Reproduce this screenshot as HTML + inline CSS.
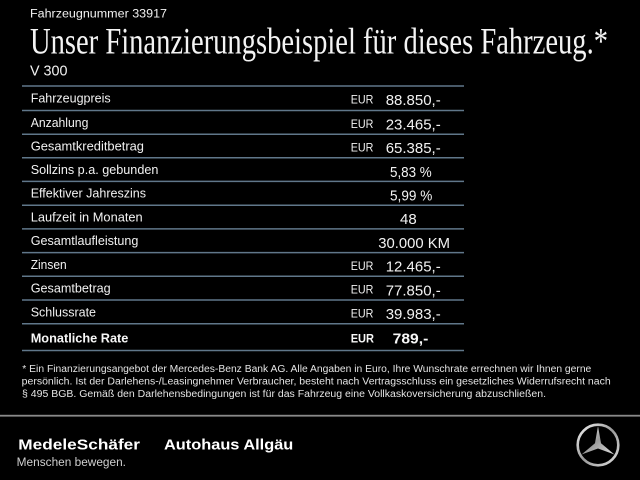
<!DOCTYPE html>
<html>
<head>
<meta charset="utf-8">
<style>
html,body{margin:0;padding:0;background:#000;}
body{width:640px;height:480px;overflow:hidden;}
svg{display:block;}
.s{font-family:"Liberation Sans",Arial,sans-serif;fill:#f2f2f2;}
.b{font-family:"Liberation Sans",Arial,sans-serif;fill:#f7f7f7;font-weight:bold;}
</style>
</head>
<body>
<svg width="640" height="480" viewBox="0 0 640 480" xmlns="http://www.w3.org/2000/svg">
<defs>
<linearGradient id="silver" x1="0" y1="0" x2="1" y2="1">
<stop offset="0" stop-color="#f2f2f2"/>
<stop offset="0.5" stop-color="#9a9a9a"/>
<stop offset="1" stop-color="#e0e0e0"/>
</linearGradient>
</defs>
<rect width="640" height="480" fill="#000"/>

<!-- header -->
<text class="s" x="30" y="17.5" font-size="11.5" textLength="137" lengthAdjust="spacingAndGlyphs">Fahrzeugnummer 33917</text>
<text x="30" y="53.5" font-family="'Liberation Serif','Times New Roman',serif" font-size="36.5" fill="#f4f4f4" textLength="578" lengthAdjust="spacingAndGlyphs">Unser Finanzierungsbeispiel für dieses Fahrzeug.*</text>
<text class="s" x="30" y="75.5" font-size="15" textLength="37.5" lengthAdjust="spacingAndGlyphs">V 300</text>

<!-- table lines -->
<g stroke="#60778a" stroke-width="1.5">
<line x1="22" y1="86" x2="464" y2="86"/>
<line x1="22" y1="110.5" x2="464" y2="110.5"/>
<line x1="22" y1="134.2" x2="464" y2="134.2"/>
<line x1="22" y1="157.8" x2="464" y2="157.8"/>
<line x1="22" y1="181.4" x2="464" y2="181.4"/>
<line x1="22" y1="205.2" x2="464" y2="205.2"/>
<line x1="22" y1="228.9" x2="464" y2="228.9"/>
<line x1="22" y1="252.6" x2="464" y2="252.6"/>
<line x1="22" y1="276.3" x2="464" y2="276.3"/>
<line x1="22" y1="300" x2="464" y2="300"/>
<line x1="22" y1="323.7" x2="464" y2="323.7"/>
<line x1="22" y1="350.5" x2="464" y2="350.5"/>
</g>

<!-- labels -->
<g class="s" font-size="13">
<text class="s" x="30.7" y="102.3" textLength="80" lengthAdjust="spacingAndGlyphs">Fahrzeugpreis</text>
<text class="s" x="30.7" y="126.8" textLength="57.7" lengthAdjust="spacingAndGlyphs">Anzahlung</text>
<text class="s" x="30.7" y="150.5" textLength="113.3" lengthAdjust="spacingAndGlyphs">Gesamtkreditbetrag</text>
<text class="s" x="30.7" y="174.1" textLength="127.7" lengthAdjust="spacingAndGlyphs">Sollzins p.a. gebunden</text>
<text class="s" x="30.7" y="197.7" textLength="115.3" lengthAdjust="spacingAndGlyphs">Effektiver Jahreszins</text>
<text class="s" x="30.7" y="221.5" textLength="112" lengthAdjust="spacingAndGlyphs">Laufzeit in Monaten</text>
<text class="s" x="30.7" y="245.2" textLength="107.7" lengthAdjust="spacingAndGlyphs">Gesamtlaufleistung</text>
<text class="s" x="30.7" y="268.9" textLength="36" lengthAdjust="spacingAndGlyphs">Zinsen</text>
<text class="s" x="30.7" y="292.6" textLength="80" lengthAdjust="spacingAndGlyphs">Gesamtbetrag</text>
<text class="s" x="30.7" y="316.3" textLength="65.3" lengthAdjust="spacingAndGlyphs">Schlussrate</text>
<text class="b" x="30.7" y="342.7" font-size="13" textLength="97.7" lengthAdjust="spacingAndGlyphs">Monatliche Rate</text>
</g>

<!-- EUR -->
<g class="s" font-size="12">
<text class="s" x="350.7" y="103.3" textLength="22.7" lengthAdjust="spacingAndGlyphs">EUR</text>
<text class="s" x="350.7" y="127.8" textLength="22.7" lengthAdjust="spacingAndGlyphs">EUR</text>
<text class="s" x="350.7" y="151.5" textLength="22.7" lengthAdjust="spacingAndGlyphs">EUR</text>
<text class="s" x="350.7" y="269.9" textLength="22.7" lengthAdjust="spacingAndGlyphs">EUR</text>
<text class="s" x="350.7" y="293.6" textLength="22.7" lengthAdjust="spacingAndGlyphs">EUR</text>
<text class="s" x="350.7" y="317.3" textLength="22.7" lengthAdjust="spacingAndGlyphs">EUR</text>
<text class="b" x="350.7" y="342.7" font-size="12" textLength="23.3" lengthAdjust="spacingAndGlyphs">EUR</text>
</g>

<!-- values -->
<g class="s" font-size="15">
<text class="s" x="385.7" y="105" textLength="55" lengthAdjust="spacingAndGlyphs">88.850,-</text>
<text class="s" x="385.7" y="129.5" textLength="55" lengthAdjust="spacingAndGlyphs">23.465,-</text>
<text class="s" x="385.7" y="153.2" textLength="55" lengthAdjust="spacingAndGlyphs">65.385,-</text>
<text class="s" x="390" y="176.8" textLength="41.7" lengthAdjust="spacingAndGlyphs">5,83 %</text>
<text class="s" x="390" y="200.4" textLength="42.3" lengthAdjust="spacingAndGlyphs">5,99 %</text>
<text class="s" x="400" y="224.2" textLength="16.7" lengthAdjust="spacingAndGlyphs">48</text>
<text class="s" x="378.3" y="247.9" textLength="71.7" lengthAdjust="spacingAndGlyphs">30.000 KM</text>
<text class="s" x="385.7" y="271.6" textLength="55" lengthAdjust="spacingAndGlyphs">12.465,-</text>
<text class="s" x="385.7" y="295.3" textLength="55" lengthAdjust="spacingAndGlyphs">77.850,-</text>
<text class="s" x="385.7" y="319" textLength="55" lengthAdjust="spacingAndGlyphs">39.983,-</text>
<text class="b" x="392.7" y="343.3" font-size="15" textLength="35.6" lengthAdjust="spacingAndGlyphs">789,-</text>
</g>

<!-- footnote -->
<g font-family="'Liberation Sans',Arial,sans-serif" font-size="10" fill="#e4e4e4">
<text x="22.3" y="372" textLength="569" lengthAdjust="spacingAndGlyphs">* Ein Finanzierungsangebot der Mercedes-Benz Bank AG. Alle Angaben in Euro, Ihre Wunschrate errechnen wir Ihnen gerne</text>
<text x="21.7" y="384.5" textLength="589" lengthAdjust="spacingAndGlyphs">persönlich. Ist der Darlehens-/Leasingnehmer Verbraucher, besteht nach Vertragsschluss ein gesetzliches Widerrufsrecht nach</text>
<text x="22" y="397" textLength="524" lengthAdjust="spacingAndGlyphs">§ 495 BGB. Gemäß den Darlehensbedingungen ist für das Fahrzeug eine Vollkaskoversicherung abzuschließen.</text>
</g>

<!-- footer separator -->
<rect x="0" y="414.8" width="640" height="1.8" fill="#8a8a8a"/>

<!-- footer logos -->
<text x="18.3" y="449.3" font-family="'Liberation Sans',Arial,sans-serif" font-weight="bold" font-size="15" fill="#ffffff" textLength="121.7" lengthAdjust="spacingAndGlyphs">MedeleSchäfer</text>
<text x="164" y="449.3" font-family="'Liberation Sans',Arial,sans-serif" font-weight="bold" font-size="15" fill="#ffffff" textLength="129.3" lengthAdjust="spacingAndGlyphs">Autohaus Allgäu</text>
<text x="16.7" y="466" font-family="'Liberation Sans',Arial,sans-serif" font-size="11.5" fill="#cfcfcf" textLength="109.3" lengthAdjust="spacingAndGlyphs">Menschen bewegen.</text>

<!-- Mercedes star -->
<circle cx="598" cy="445" r="20.3" fill="none" stroke="url(#silver)" stroke-width="2.6"/>
<polygon points="598,426 601.03,443.25 614.45,454.5 598,448.5 581.55,454.5 594.97,443.25" fill="url(#silver)"/>
</svg>
</body>
</html>
